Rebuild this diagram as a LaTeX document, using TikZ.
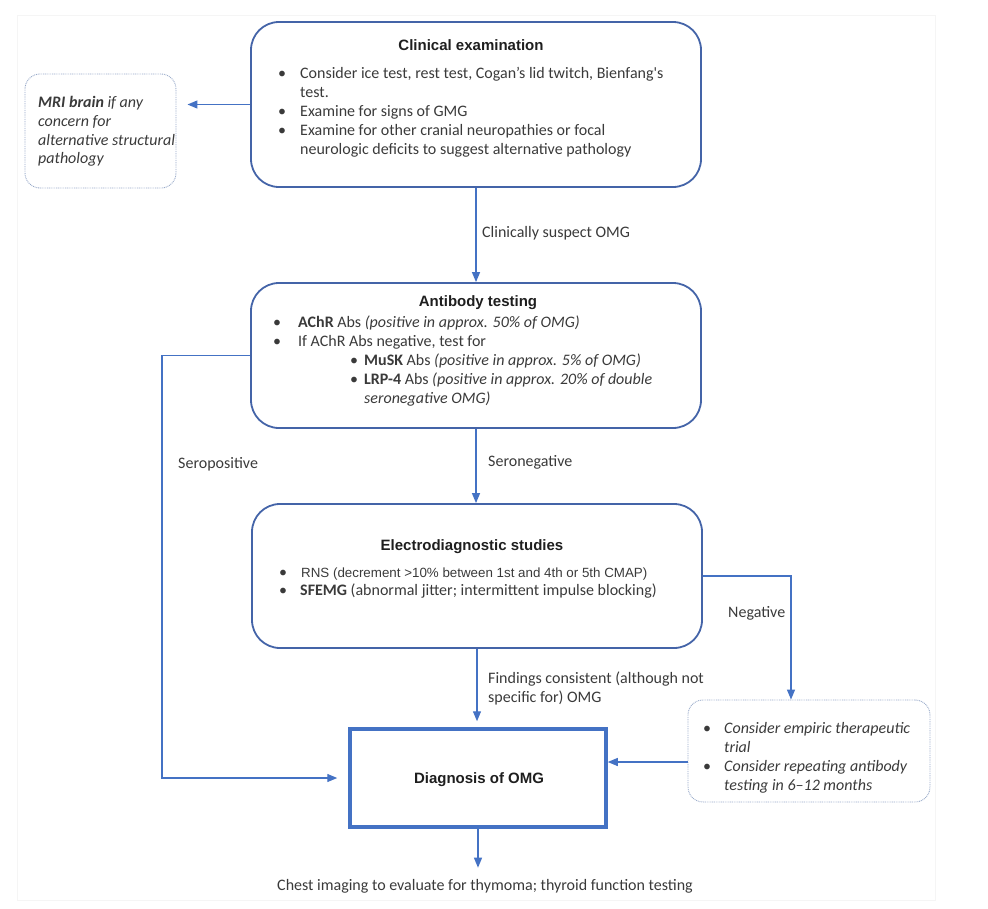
\documentclass[tikz,border=0pt]{standalone}
\usepackage{fontspec}
\setmainfont{Carlito}
\newfontfamily\arialf{Liberation Sans}
\usetikzlibrary{arrows.meta}
\definecolor{boxc}{RGB}{68,100,168}
\definecolor{arrc}{RGB}{68,114,196}
\definecolor{dotc}{RGB}{150,168,200}
\definecolor{textc}{RGB}{58,58,58}
\definecolor{titlec}{RGB}{30,30,30}
\begin{document}
\begin{tikzpicture}[x=1pt,y=-1pt,
  mainbox/.style={draw=boxc, line width=1.8pt, rounded corners=28pt, inner sep=0pt},
  dotbox/.style={draw=dotc, line width=0.9pt, dash pattern=on 0.9pt off 0.9pt, rounded corners=15pt, inner sep=0pt},
  diagbox/.style={draw=arrc, line width=3.5pt, inner sep=0pt},
  arr/.style={draw=arrc, line width=1.3pt, -{Triangle[length=10pt,width=8pt]}},
  txt/.style={inner sep=0pt, anchor=base west, text=textc, font=\fontsize{16}{19}\selectfont},
  artxt/.style={inner sep=0pt, anchor=base west, text=textc, font=\arialf\fontsize{13.35}{16}\selectfont},
  ttl/.style={inner sep=0pt, anchor=base, text=titlec, font=\arialf\bfseries\fontsize{15}{18}\selectfont}]

\useasboundingbox (0,0) rectangle (988,908);
\draw[black!4, line width=1pt] (17,15) rectangle (935,900);

% boxes
\node[mainbox, minimum width=450pt, minimum height=165pt] (ce) at (476,104.5) {};
\node[mainbox, minimum width=450pt, minimum height=145pt] (ab) at (476,355.5) {};
\node[mainbox, minimum width=450pt, minimum height=144pt] (ed) at (477,576) {};
\node[diagbox, minimum width=256pt, minimum height=98pt] (dx) at (478,778) {};
\node[dotbox, minimum width=151pt, minimum height=114pt] (mri) at (100.5,131) {};
\node[dotbox, minimum width=242pt, minimum height=102pt] (rb) at (809,751) {};

% clinical examination
\node[ttl] (ceT) at (471,50) {Clinical examination};
\node[txt] (ceB1) at (278,78) {•};
\node[txt] (ce1) at (300,78) {Consider ice test, rest test, Cogan’s lid twitch, Bienfang\textquotesingle s};
\node[txt] (ce2) at (300,97) {test.};
\node[txt] (ceB2) at (278,116) {•};
\node[txt] (ce3) at (300,116) {Examine for signs of GMG};
\node[txt] (ceB3) at (278,135) {•};
\node[txt] (ce4) at (300,135) {Examine for other cranial neuropathies or focal};
\node[txt] (ce5) at (300,154) {neurologic deficits to suggest alternative pathology};

% MRI
\node[txt] (m1) at (38,107) {\textit{\textbf{MRI brain} if any}};
\node[txt] (m2) at (38,126) {\textit{concern for}};
\node[txt] (m3) at (38,145) {\textit{alternative structural}};
\node[txt] (m4) at (38,163) {\textit{pathology}};

% antibody testing
\node[ttl] (abT) at (478,306) {Antibody testing};
\node[txt] (abB1) at (273,327) {•};
\node[txt] (ab1) at (298,327) {\textbf{AChR} Abs \textit{(positive in approx. 50\% of OMG)}};
\node[txt] (abB2) at (273,346) {•};
\node[txt] (ab2) at (298,346) {If AChR Abs negative, test for};
\node[txt] (abB3) at (350,365) {•};
\node[txt] (ab3) at (364,365) {\textbf{MuSK} Abs \textit{(positive in approx. 5\% of OMG)}};
\node[txt] (abB4) at (350,384) {•};
\node[txt] (ab4) at (364,384) {\textbf{LRP-4} Abs \textit{(positive in approx. 20\% of double}};
\node[txt] (ab5) at (364,403) {\textit{seronegative OMG)}};

% electrodiagnostic
\node[ttl] (edT) at (472,550) {Electrodiagnostic studies};
\node[txt] (edB1) at (279,577) {•};
\node[artxt] (ed1) at (301,577) {RNS (decrement >10\% between 1st and 4th or 5th CMAP)};
\node[txt] (edB2) at (279,595) {•};
\node[txt] (ed2) at (300,595) {\textbf{SFEMG} (abnormal jitter; intermittent impulse blocking)};

% right dotted box
\node[txt] (rbB1) at (703,733) {•};
\node[txt] (rb1) at (724,733) {\textit{Consider empiric therapeutic}};
\node[txt] (rb2) at (724,752) {\textit{trial}};
\node[txt] (rbB2) at (703,771) {•};
\node[txt] (rb3) at (724,771) {\textit{Consider repeating antibody}};
\node[txt] (rb4) at (724,790) {\textit{testing in 6–12 months}};

% diagnosis
\node[ttl] (dxT) at (479,783) {Diagnosis of OMG};

% chest
\node[txt, anchor=base, inner sep=2pt] (chest) at (485,890) {Chest imaging to evaluate for thymoma; thyroid function testing};

% labels
\node[txt] (l1) at (482,237) {Clinically suspect OMG};
\node[txt] (l2) at (178,468) {Seropositive};
\node[txt] (l3) at (488,466) {Seronegative};
\node[txt] (l4) at (728,617) {Negative};
\node[txt] (l5) at (488,683) {Findings consistent (although not};
\node[txt] (l6) at (488,702) {specific for) OMG};

% connectors
\draw[arr, shorten >=11pt] (ce.west) -- (ce.west -| mri.east);
\draw[arr] (ce.south) -- (ab.north);
\draw[arr, shorten >=11pt] (ab.west) -- ++(-88,0) |- (dx.west);
\draw[arr] (ab.south) -- (ab.south |- ed.north);
\draw[arr] (ed.east) -| ([xshift=-18pt]rb.north);
\draw[arr, shorten >=6pt] (ed.south) -- (ed.south |- dx.north);
\draw[arr] ([yshift=-11pt]rb.west) -- ([yshift=-11pt]rb.west -| dx.east);
\draw[arr, shorten >=9pt] (dx.south) -- (dx.south |- chest.north);
\end{tikzpicture}
\end{document}
